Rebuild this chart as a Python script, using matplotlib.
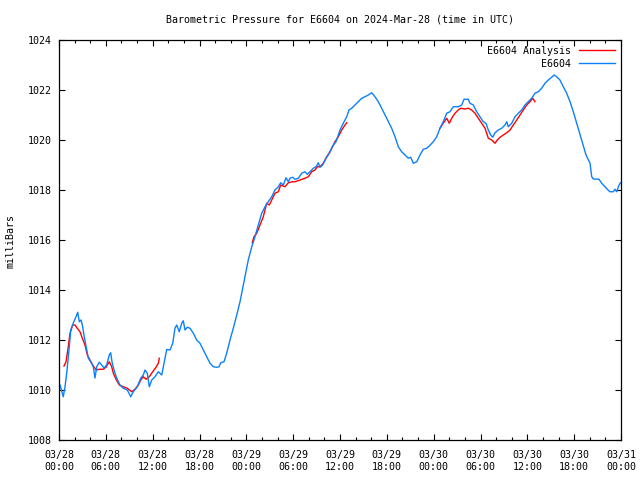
import matplotlib
matplotlib.use("Agg")
import matplotlib.pyplot as plt
from matplotlib.ticker import MultipleLocator

# ---- data (hours since 2024-03-28 00:00 UTC, pressure in mb) ----
obs_hours = [0.0, 0.13, 0.55, 0.77, 0.99, 1.32, 1.50, 1.83, 2.18, 2.40, 2.60, 2.82, 2.99, 3.24, 3.55, 3.75,
             4.06, 4.39, 4.61, 4.83, 5.16, 5.47, 5.77, 6.11, 6.44, 6.62, 6.79, 7.05, 7.39, 7.81, 8.24,
             8.75, 9.19, 9.52, 10.03, 10.47, 10.80, 11.02, 11.31, 11.57, 11.88, 12.30, 12.72, 13.16,
             13.45, 13.80, 14.22, 14.57, 14.86, 15.08, 15.41, 15.72, 15.92, 16.14, 16.44, 16.78, 17.21,
             17.64, 18.06, 18.49, 18.92, 19.35, 19.77, 20.20, 20.50, 20.72, 21.14, 21.48, 21.91, 22.33,
             22.77, 23.19, 23.83, 24.25, 24.69, 25.11, 25.53, 25.97, 26.39, 26.81, 27.25, 27.67, 28.10,
             28.40, 28.74, 29.08, 29.38, 29.59, 29.94, 30.23, 30.66, 31.09, 31.52, 31.81, 32.16, 32.58,
             32.93, 33.22, 33.44, 33.78, 34.21, 34.63, 35.06, 35.49, 36.00, 36.42, 36.86, 37.15, 37.50,
             37.92, 38.34, 38.78, 39.20, 39.63, 40.06, 40.48, 40.91, 41.34, 41.77, 42.19, 42.62, 43.05,
             43.47, 43.90, 44.33, 44.75, 45.06, 45.39, 45.83, 46.25, 46.67, 47.11, 47.44, 47.95, 48.39,
             48.81, 49.23, 49.67, 50.09, 50.51, 51.15, 51.59, 51.89, 52.44, 52.65, 53.08, 53.51, 53.94,
             54.36, 54.70, 55.00, 55.31, 55.56, 55.86, 56.28, 56.72, 57.14, 57.36, 57.56, 58.00, 58.42,
             58.84, 59.28, 59.70, 60.12, 60.56, 60.98, 61.40, 61.84, 62.26, 62.69, 63.12, 63.42, 63.76,
             64.18, 64.61, 65.04, 65.47, 65.89, 66.32, 66.75, 67.13, 67.52, 68.03, 68.25, 68.45, 69.18,
             69.53, 69.95, 70.24, 70.59, 71.01, 71.24, 71.45, 71.66, 71.88, 72.0]
obs_press = [1010.25, 1010.2, 1009.73, 1010.13, 1010.68, 1011.73, 1012.4, 1012.68, 1012.93, 1013.11, 1012.73,
             1012.8, 1012.6, 1012.13, 1011.6, 1011.28, 1011.13, 1010.93, 1010.48, 1010.93, 1011.11, 1011.0,
             1010.88, 1011.0, 1011.4, 1011.49, 1011.13, 1010.8, 1010.48, 1010.2, 1010.07, 1010.0, 1009.73,
             1009.93, 1010.13, 1010.47, 1010.6, 1010.8, 1010.67, 1010.13, 1010.4, 1010.53, 1010.73, 1010.6,
             1011.07, 1011.62, 1011.6, 1011.87, 1012.47, 1012.6, 1012.33, 1012.67, 1012.77, 1012.4, 1012.51,
             1012.47, 1012.27, 1012.0, 1011.87, 1011.6, 1011.33, 1011.07, 1010.93, 1010.91, 1010.93, 1011.09,
             1011.13, 1011.47, 1012.0, 1012.47, 1013.0, 1013.53, 1014.53, 1015.2, 1015.73, 1016.13, 1016.6,
             1017.07, 1017.33, 1017.53, 1017.73, 1018.0, 1018.13, 1018.29, 1018.2, 1018.49, 1018.33, 1018.47,
             1018.51, 1018.43, 1018.47, 1018.67, 1018.73, 1018.63, 1018.73, 1018.87, 1018.93, 1019.09,
             1018.91, 1019.0, 1019.27, 1019.47, 1019.76, 1019.93, 1020.4, 1020.67, 1020.93, 1021.2, 1021.27,
             1021.4, 1021.53, 1021.67, 1021.73, 1021.8, 1021.89, 1021.73, 1021.53, 1021.27, 1021.0, 1020.73,
             1020.47, 1020.13, 1019.73, 1019.53, 1019.4, 1019.27, 1019.31, 1019.07, 1019.13, 1019.4, 1019.63,
             1019.67, 1019.76, 1019.93, 1020.13, 1020.47, 1020.73, 1021.07, 1021.13, 1021.33, 1021.33,
             1021.4, 1021.63, 1021.63, 1021.47, 1021.4, 1021.13, 1020.93, 1020.73, 1020.67, 1020.4, 1020.2,
             1020.11, 1020.29, 1020.4, 1020.47, 1020.6, 1020.73, 1020.53, 1020.67, 1020.93, 1021.07, 1021.2,
             1021.4, 1021.53, 1021.67, 1021.87, 1021.93, 1022.07, 1022.27, 1022.4, 1022.51, 1022.6, 1022.53,
             1022.4, 1022.13, 1021.87, 1021.53, 1021.13, 1020.67, 1020.2, 1019.8, 1019.4, 1019.07, 1018.53,
             1018.44, 1018.43, 1018.27, 1018.13, 1018.03, 1017.93, 1017.93, 1018.03, 1017.93, 1018.13,
             1018.27, 1018.3]

ana1_hours = [0.64, 0.90, 1.19, 1.41, 1.76, 2.05, 2.34, 2.69, 2.99, 3.33, 3.63, 3.97, 4.32, 4.74, 5.16, 5.68,
              6.02, 6.44, 6.75, 6.96, 7.30, 7.73, 8.24, 8.75, 9.31, 9.74, 10.16, 10.47, 10.80, 11.15, 11.57,
              12.00, 12.43, 12.72, 12.85]
ana1_press = [1010.96, 1011.13, 1011.73, 1012.27, 1012.6, 1012.6, 1012.47, 1012.33, 1012.07, 1011.8, 1011.4,
              1011.2, 1011.0, 1010.8, 1010.83, 1010.83, 1010.91, 1011.13, 1010.93, 1010.67, 1010.43, 1010.2,
              1010.13, 1010.07, 1009.93, 1010.03, 1010.2, 1010.4, 1010.53, 1010.43, 1010.53, 1010.73,
              1010.91, 1011.07, 1011.27]
ana2_hours = [24.76, 24.98, 25.33, 25.75, 26.17, 26.61, 26.94, 27.25, 27.67, 28.10, 28.40, 28.95, 29.38, 29.94,
              30.23, 30.87, 31.52, 31.94, 32.37, 32.80, 33.09, 33.44, 33.86, 34.30, 34.72, 34.94, 35.36,
              35.78, 36.22, 36.64, 36.86]
ana2_press = [1015.89, 1016.13, 1016.27, 1016.6, 1016.93, 1017.47, 1017.4, 1017.6, 1017.87, 1017.93, 1018.2,
              1018.13, 1018.29, 1018.33, 1018.33, 1018.4, 1018.47, 1018.53, 1018.73, 1018.8, 1018.93, 1018.93,
              1019.07, 1019.33, 1019.53, 1019.67, 1019.93, 1020.13, 1020.4, 1020.6, 1020.69]
ana3_hours = [48.81, 49.23, 49.67, 50.00, 50.31, 50.73, 51.15, 51.46, 52.01, 52.44, 52.87, 53.29, 53.72, 54.15,
              54.58, 55.00, 55.43, 55.86, 56.15, 56.50, 56.92, 57.36, 57.78, 58.20, 58.64, 59.06, 59.48,
              59.92, 60.34, 60.69, 60.98]
ana3_press = [1020.47, 1020.67, 1020.87, 1020.67, 1020.87, 1021.07, 1021.2, 1021.27, 1021.24, 1021.27, 1021.2,
              1021.07, 1020.87, 1020.67, 1020.47, 1020.07, 1020.0, 1019.87, 1020.0, 1020.11, 1020.2, 1020.29,
              1020.4, 1020.6, 1020.8, 1021.0, 1021.2, 1021.4, 1021.53, 1021.67, 1021.53]

xtick_hours = [0, 6, 12, 18, 24, 30, 36, 42, 48, 54, 60, 66, 72]
xtick_labels = ["03/28\n00:00", "03/28\n06:00", "03/28\n12:00", "03/28\n18:00",
                "03/29\n00:00", "03/29\n06:00", "03/29\n12:00", "03/29\n18:00",
                "03/30\n00:00", "03/30\n06:00", "03/30\n12:00", "03/30\n18:00",
                "03/31\n00:00"]
ytick_values = [1008, 1010, 1012, 1014, 1016, 1018, 1020, 1022, 1024]

title = "Barometric Pressure for E6604 on 2024-Mar-28 (time in UTC)"
ylabel = "milliBars"

# ---- plotting ----
plt.rcParams['font.family'] = ['DejaVu Sans Mono']
FS = 7.2

fig = plt.figure(figsize=(6.4, 4.8), dpi=100)
ax = fig.add_axes([59/640, 40/480, 562/640, 400/480])

red = '#ff0000'
blue = '#0a80ff'

ana_label_done = False
for hh, pp in [(ana1_hours, ana1_press), (ana2_hours, ana2_press), (ana3_hours, ana3_press)]:
    ax.plot(hh, pp, color=red, lw=1.0, label=None if ana_label_done else "E6604 Analysis")
    ana_label_done = True
ax.plot(obs_hours, obs_press, color=blue, lw=1.0, label="E6604")

ax.set_xlim(0, 72)
ax.set_ylim(1008, 1024)
ax.set_xticks(xtick_hours)
ax.set_xticklabels(xtick_labels, fontsize=FS, linespacing=1.25)
ax.xaxis.set_minor_locator(MultipleLocator(2))
ax.set_yticks(ytick_values)
ax.set_yticklabels([str(v) for v in ytick_values], fontsize=FS)

ax.tick_params(axis='both', which='both', direction='in', top=True, right=True, width=0.8)
ax.tick_params(axis='both', which='major', length=4.5)
ax.tick_params(axis='x', which='major', pad=7.5)
ax.tick_params(axis='y', which='major', pad=5)
ax.tick_params(axis='x', which='minor', length=2.5)
for s in ax.spines.values():
    s.set_linewidth(0.9)

fig.text(340/640, 1 - 19/480, title, ha='center', va='center', fontsize=FS)
fig.text(11/640, 1 - 241/480, ylabel, ha='center', va='center', rotation=90, fontsize=FS)

leg = ax.legend(loc='upper right', fontsize=FS, frameon=False, markerfirst=False,
                handlelength=3.6, handletextpad=0.8, borderaxespad=0.2, labelspacing=0.3,
                bbox_to_anchor=(1.0, 1.0))
for t in leg.get_texts():
    t.set_ha('right')

fig.savefig("out.png", dpi=100)
